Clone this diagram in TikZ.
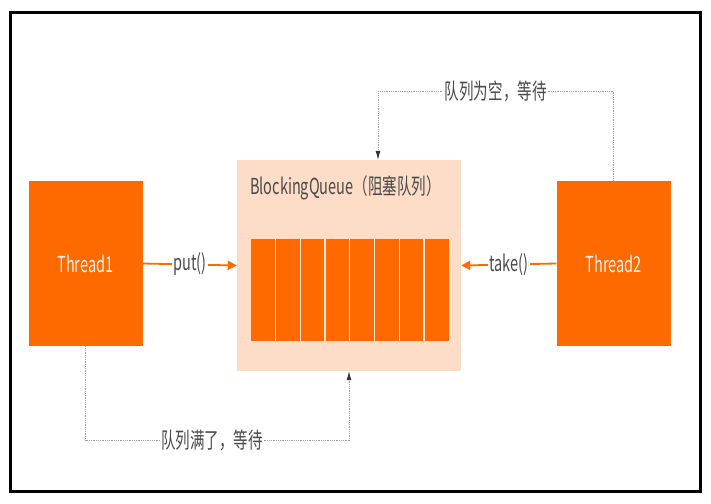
\documentclass[tikz,border=0pt]{standalone}
\usepackage{fontspec}
\usepackage{graphicx}
\setmainfont{Noto Sans CJK SC}
\usetikzlibrary{arrows.meta,calc}
\definecolor{qorange}{HTML}{FF6A00}
\definecolor{qpeach}{HTML}{FDDDC8}
\definecolor{qtext}{HTML}{4A4A4A}
\newcommand{\sqtxt}[1]{\scalebox{0.66}[1]{\fontsize{22}{24}\selectfont #1}}
\begin{document}
\begin{tikzpicture}[x=1pt,y=-1pt,
 threadbox/.style={fill=qorange, draw=none, minimum width=114pt, minimum height=165pt, inner sep=0pt, text=white!92!qorange},
 lbl/.style={fill=white, inner sep=1.5pt, text=qtext},
 waitline/.style={draw=gray!75, line width=0.8pt, dash pattern=on 1pt off 0.8pt},
 waittip/.style={-{Latex[length=9pt,width=5pt,color=black!80]}},
 flow/.style={draw=qorange, line width=1.8pt, -{Triangle[length=9pt,width=9pt]}},
]
\useasboundingbox (0,0) rectangle (711,503);
\fill[white] (0,0) rectangle (711,503);
\draw[line width=3pt] (10,13) rectangle (700,491);

\node[threadbox] (t1) at (85.5,263.5) {\sqtxt{Thread1}};
\node[threadbox] (t2) at (613.5,263.5) {\sqtxt{Thread2}};
\node[fill=qpeach, minimum width=224pt, minimum height=211pt, inner sep=0pt] (bq) at (349,265.5) {};
\node[anchor=west, text=qtext, inner sep=0pt] (title) at (250,188) {\sqtxt{BlockingQueue（阻塞队列）}};

\node[fill=qorange, minimum width=198pt, minimum height=102pt, inner sep=0pt] (cells) at (350,290) {};
\foreach \i in {1,...,7}
  \draw[white!85!qorange, line width=1.2pt] ($(cells.north west)+(\i*24.75,0)$) -- ($(cells.south west)+(\i*24.75,0)$);

\draw[flow] (t1.east) -- node[lbl]{\sqtxt{put()}} (bq.west);
\draw[flow] (t2.west) -- node[lbl]{\sqtxt{take()}} (bq.east);

\coordinate (topL) at (378,91);
\draw[waitline, waittip] (t2.north) -- (t2.north |- topL) -- node[lbl]{\sqtxt{队列为空，等待}} (topL) -- (topL |- bq.north);

\coordinate (botR) at (349,440);
\draw[waitline, waittip] (t1.south) -- (t1.south |- botR) -- node[lbl, pos=0.48]{\sqtxt{队列满了，等待}} (botR) -- (botR |- bq.south);
\end{tikzpicture}
\end{document}
